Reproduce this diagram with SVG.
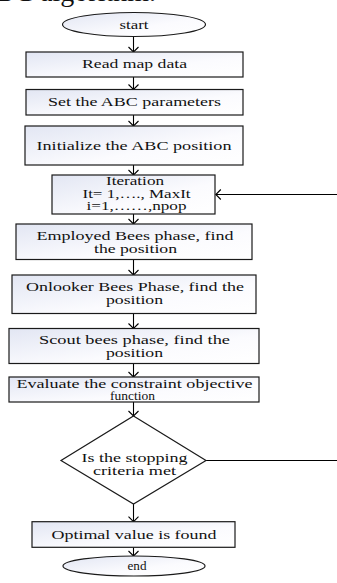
<svg xmlns="http://www.w3.org/2000/svg" width="337" height="583" viewBox="0 0 337 583">
  <defs>
    <linearGradient id="fill" x1="0" y1="0" x2="1" y2="1">
      <stop offset="0" stop-color="#e2e6f3"/>
      <stop offset="0.6" stop-color="#fbfbfe"/>
      <stop offset="1" stop-color="#ffffff"/>
    </linearGradient>
    <marker id="arr" markerUnits="userSpaceOnUse" markerWidth="14" markerHeight="14" viewBox="-7 -7 14 14" refX="0" refY="0" orient="auto">
      <path d="M-5,-5 L0,0 L-5,5" fill="none" stroke="#000" stroke-width="1.1"/>
    </marker>
  </defs>
  <style>
    .box { fill: url(#fill); stroke: #1a1a1a; stroke-width: 1.2; }
    .dia { fill: #ffffff; stroke: #1a1a1a; stroke-width: 1.2; }
    .t { font-family: "Liberation Serif", "Times New Roman", serif; font-size: 11.5px; fill: #111; text-anchor: middle; }
    .cap { font-family: "Liberation Serif", "Times New Roman", serif; font-size: 28px; fill: #111; text-anchor: end; }
    .c { fill: none; stroke: #000; stroke-width: 1.1; }
    .ca { fill: none; stroke: #000; stroke-width: 1.1; marker-end: url(#arr); }
  </style>

  <text class="cap" x="156" y="1">ABC algorithm.</text>

  <g id="connectors">
    <line class="ca" x1="133.5" y1="36.5" x2="133.5" y2="52"/>
    <line class="ca" x1="133.5" y1="77" x2="133.5" y2="89.5"/>
    <line class="ca" x1="133.5" y1="115" x2="133.5" y2="126"/>
    <line class="ca" x1="133.5" y1="165" x2="133.5" y2="175"/>
    <line class="ca" x1="133.5" y1="214" x2="133.5" y2="224"/>
    <line class="ca" x1="133.5" y1="259.5" x2="133.5" y2="275"/>
    <line class="ca" x1="133.5" y1="313.5" x2="133.5" y2="328.5"/>
    <line class="ca" x1="133.5" y1="363.5" x2="133.5" y2="377"/>
    <line class="ca" x1="133.5" y1="402" x2="133.5" y2="416"/>
    <line class="ca" x1="133.5" y1="504" x2="133.5" y2="521.7"/>
    <line class="ca" x1="133.5" y1="547.3" x2="133.5" y2="556"/>
    <line class="c" x1="206" y1="460.5" x2="337" y2="460.5"/>
    <line class="ca" x1="337" y1="194.5" x2="215.8" y2="194.5"/>
  </g>

  <g id="start">
    <ellipse class="box" cx="134" cy="24.5" rx="71.5" ry="12"/>
    <text class="t" x="134" y="28.5" textLength="29" lengthAdjust="spacingAndGlyphs">start</text>
  </g>
  <g id="read">
    <rect class="box" x="26" y="52" width="217" height="25"/>
    <text class="t" x="134.5" y="68" textLength="105" lengthAdjust="spacingAndGlyphs">Read map data</text>
  </g>
  <g id="setparams">
    <rect class="box" x="26" y="89.5" width="217" height="25.5"/>
    <text class="t" x="134.5" y="106" textLength="173" lengthAdjust="spacingAndGlyphs">Set the ABC parameters</text>
  </g>
  <g id="init">
    <rect class="box" x="25" y="126" width="218" height="39"/>
    <text class="t" x="134" y="149.5" textLength="195" lengthAdjust="spacingAndGlyphs">Initialize the ABC position</text>
  </g>
  <g id="iteration">
    <rect class="box" x="52" y="175" width="163" height="39"/>
    <text class="t" x="135" y="185" textLength="58" lengthAdjust="spacingAndGlyphs">Iteration</text>
    <text class="t" x="136.5" y="197.5" textLength="108" lengthAdjust="spacingAndGlyphs">It= 1,…., MaxIt</text>
    <text class="t" x="136.5" y="210" textLength="100" lengthAdjust="spacingAndGlyphs">i=1,……,npop</text>
  </g>
  <g id="employed">
    <rect class="box" x="16" y="224" width="236" height="35.5"/>
    <text class="t" x="135" y="240" textLength="197" lengthAdjust="spacingAndGlyphs">Employed Bees phase, find</text>
    <text class="t" x="135.5" y="253" textLength="83" lengthAdjust="spacingAndGlyphs">the position</text>
  </g>
  <g id="onlooker">
    <rect class="box" x="12" y="275" width="244" height="38.5"/>
    <text class="t" x="135" y="291" textLength="218" lengthAdjust="spacingAndGlyphs">Onlooker Bees Phase, find the</text>
    <text class="t" x="134.5" y="304" textLength="57" lengthAdjust="spacingAndGlyphs">position</text>
  </g>
  <g id="scout">
    <rect class="box" x="9" y="328.5" width="250" height="35"/>
    <text class="t" x="134.5" y="343.5" textLength="191" lengthAdjust="spacingAndGlyphs">Scout bees phase,  find the</text>
    <text class="t" x="134.5" y="356.5" textLength="57" lengthAdjust="spacingAndGlyphs">position</text>
  </g>
  <g id="evaluate">
    <rect class="box" x="9" y="377" width="250" height="25"/>
    <text class="t" x="134.5" y="387.5" textLength="236" lengthAdjust="spacingAndGlyphs">Evaluate the constraint objective</text>
    <text class="t" x="132.5" y="400" textLength="45" lengthAdjust="spacingAndGlyphs">function</text>
  </g>
  <g id="decision">
    <polygon class="dia" points="133.5,416 206,460.5 133.5,504 61,460.5"/>
    <text class="t" x="134.5" y="461.5" textLength="106" lengthAdjust="spacingAndGlyphs">Is the stopping</text>
    <text class="t" x="134.5" y="475" textLength="83" lengthAdjust="spacingAndGlyphs">criteria met</text>
  </g>
  <g id="optimal">
    <rect class="box" x="32" y="521.7" width="203" height="25.6"/>
    <text class="t" x="134" y="539" textLength="165" lengthAdjust="spacingAndGlyphs">Optimal value is found</text>
  </g>
  <g id="end">
    <ellipse class="box" cx="134" cy="566" rx="71" ry="10"/>
    <text class="t" x="137" y="569.5" textLength="19" lengthAdjust="spacingAndGlyphs">end</text>
  </g>
</svg>
